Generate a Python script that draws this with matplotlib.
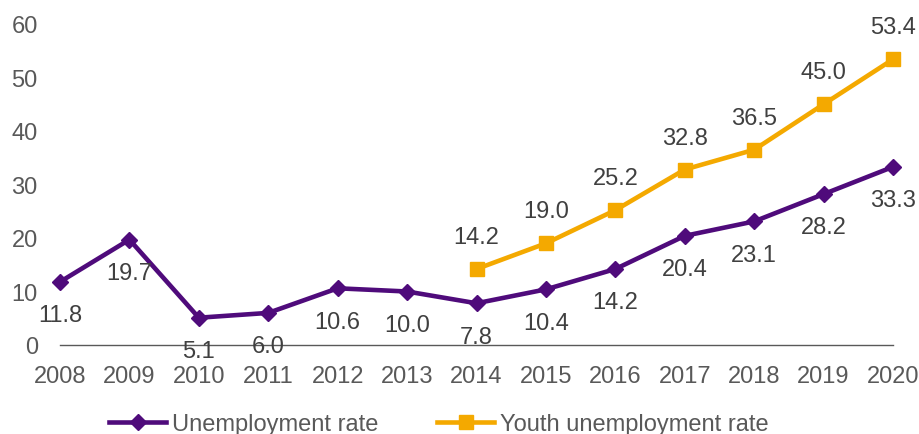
import matplotlib
matplotlib.use("Agg")
import matplotlib.pyplot as plt

plt.rcParams['font.family'] = ['Liberation Sans', 'DejaVu Sans']

years = [2008, 2009, 2010, 2011, 2012, 2013, 2014, 2015, 2016, 2017, 2018, 2019, 2020]
unemployment = [11.8, 19.7, 5.1, 6.0, 10.6, 10.0, 7.8, 10.4, 14.2, 20.4, 23.1, 28.2, 33.3]
youth_years = [2014, 2015, 2016, 2017, 2018, 2019, 2020]
youth_unemployment = [14.2, 19.0, 25.2, 32.8, 36.5, 45.0, 53.4]
yticks = [0, 10, 20, 30, 40, 50, 60]

purple = '#4F0B7B'
orange = '#F4A900'
label_color = '#404040'
tick_color = '#595959'
fs = 17

fig = plt.figure(figsize=(9.19, 4.35), dpi=100)
ax = fig.add_axes([60 / 919, 89 / 435, 833 / 919, 321 / 435])

ax.plot(years, unemployment, color=purple, lw=3.3, marker='D', ms=8.5,
        clip_on=False, zorder=3, label='Unemployment rate')
ax.plot(youth_years, youth_unemployment, color=orange, lw=3.3, marker='s', ms=10.5,
        clip_on=False, zorder=3, label='Youth unemployment rate')

for x, v in zip(years, unemployment):
    ax.annotate(f'{v:.1f}', (x, v), xytext=(0, -24), textcoords='offset points',
                ha='center', va='center', fontsize=fs, color=label_color)
for x, v in zip(youth_years, youth_unemployment):
    ax.annotate(f'{v:.1f}', (x, v), xytext=(0, 23), textcoords='offset points',
                ha='center', va='center', fontsize=fs, color=label_color)

ax.set_xlim(2008, 2020)
ax.set_ylim(0, 60)
ax.set_xticks(years)
ax.set_xticklabels([str(y) for y in years])
ax.set_yticks(yticks)

for s in ['top', 'right', 'left']:
    ax.spines[s].set_visible(False)
ax.spines['bottom'].set_color('#595959')
ax.spines['bottom'].set_linewidth(1)
ax.tick_params(axis='x', length=0, pad=14.5, labelsize=fs, labelcolor=tick_color)
ax.tick_params(axis='y', length=0, pad=16, labelsize=fs, labelcolor=tick_color)

fig.legend(loc='center', bbox_to_anchor=(439 / 919, 1 - 425 / 435), ncol=2,
           frameon=False, fontsize=fs, handlelength=2.4, handletextpad=0.25,
           columnspacing=2.5, labelcolor=tick_color)

fig.savefig('out.png', dpi=100)
